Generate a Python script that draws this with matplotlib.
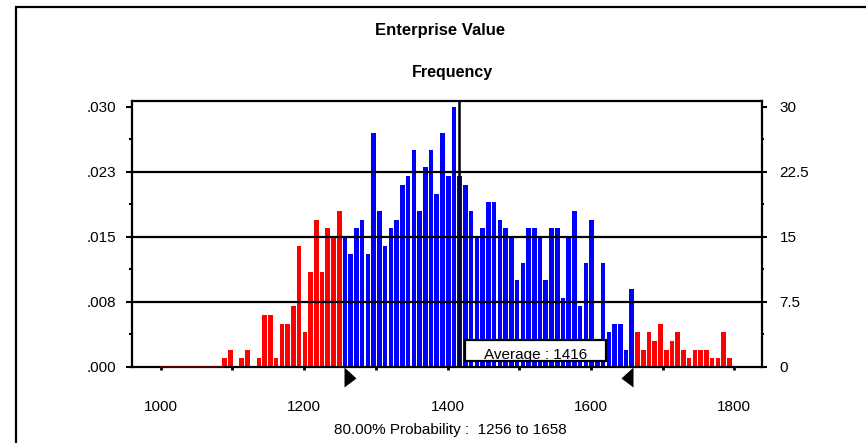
import matplotlib
matplotlib.use("Agg")
import matplotlib.pyplot as plt
from matplotlib.path import Path
from matplotlib.patches import Rectangle
from matplotlib.ticker import MultipleLocator
from matplotlib.transforms import Affine2D
import numpy as np

plt.rcParams["font.family"] = ["Liberation Sans", "DejaVu Sans"]

# data (frequency per bin, bins of 8 starting at 1085)
bin_start = 1085
bin_width = 8
counts = [1, 2, 0, 1, 2, 0, 1, 6, 6, 1, 5, 5, 7, 14, 4, 11, 17, 11, 16, 15, 18,
          15, 13, 16, 17, 13, 27, 18, 14, 16, 17, 21, 22, 25, 18, 23, 25, 20, 27, 22, 30,
          22, 21, 18, 15, 16, 19, 19, 17, 16, 15, 10, 12, 16, 16, 15, 10, 16, 16, 8, 15,
          18, 7, 12, 17, 1, 12, 4, 5, 5, 2, 9,
          4, 2, 4, 3, 5, 2, 3, 4, 2, 1, 2, 2, 2, 1, 1, 4, 1]
display_min = 1000
average = 1416
certainty = 80.00
lo, hi = 1256, 1658

freq_ticks = [0, 7.5, 15, 22.5, 30]
freq_labels = ["0", "7.5", "15", "22.5", "30"]
prob_labels = [".000", ".008", ".015", ".023", ".030"]
x_ticks = [1000, 1200, 1400, 1600, 1800]

W, H = 866, 443
fig = plt.figure(figsize=(W / 100, H / 100), dpi=100)

# outer frame (only left and top edges visible)
fig.patches.append(Rectangle((16 / W, -0.5), 2, 1 - 7 / H + 0.5, transform=fig.transFigure,
                             fill=False, lw=1.6, edgecolor="black"))

ax = fig.add_axes([131.7 / W, 1 - 367 / H, (762.3 - 131.7) / W, (367 - 100.7) / H])

centers = bin_start + bin_width / 2 + bin_width * np.arange(len(counts))
colors = ["#ff0000" if (c < lo or c > hi) else "#0000ff" for c in centers]
ax.bar(centers, counts, width=bin_width * 0.8, color=colors, linewidth=0, zorder=2)

ax.plot([display_min, bin_start], [0, 0], color="#600000", lw=1.2, zorder=6, clip_on=False)

for g in freq_ticks[1:-1]:
    ax.axhline(g, color="black", lw=1.6, zorder=3)
ax.axvline(average, color="black", lw=1.8, zorder=3)

ax.set_xlim(959.6, 1839)
ax.set_ylim(0, 30.7)

for s in ax.spines.values():
    s.set_linewidth(1.6)
    s.set_zorder(5)

ax.set_xticks(x_ticks)
ax.set_xticklabels([str(v) for v in x_ticks])
ax.xaxis.set_minor_locator(MultipleLocator(100))
ax.tick_params(axis="x", which="both", direction="out", length=2.5, width=2, pad=21, labelsize=11)

ax.set_yticks(freq_ticks)
ax.set_yticklabels(prob_labels)
ax.yaxis.set_minor_locator(MultipleLocator(3.75))
ax.tick_params(axis="y", which="major", direction="out", length=4, width=1.5, pad=7, labelsize=11)
ax.tick_params(axis="y", which="minor", direction="out", length=2, width=1.5)

ax2 = ax.twinx()
ax2.set_ylim(ax.get_ylim())
ax2.set_yticks(freq_ticks)
ax2.set_yticklabels(freq_labels)
ax2.yaxis.set_minor_locator(MultipleLocator(3.75))
ax2.tick_params(axis="y", which="major", direction="out", length=3.5, width=1.5, pad=9, labelsize=11)
ax2.tick_params(axis="y", which="minor", direction="out", length=1.5, width=1.5)
for s in ax2.spines.values():
    s.set_visible(False)

# certainty grabbers
right_tri = Path([(0, 0), (0, -1), (0.6, -0.55), (0, 0)],
                 [Path.MOVETO, Path.LINETO, Path.LINETO, Path.CLOSEPOLY])
left_tri = Path([(0, 0), (0, -1), (-0.6, -0.55), (0, 0)],
                [Path.MOVETO, Path.LINETO, Path.LINETO, Path.CLOSEPOLY])
ax.plot([lo], [0], marker=right_tri, ms=28.8, mew=0, color="black", ls="none", clip_on=False, zorder=6)
ax.plot([hi], [0], marker=left_tri, ms=28.8, mew=0, color="black", ls="none", clip_on=False, zorder=6)

# average label box, placed in pixels next to the average line
ox, oy = ax.transData.transform((average, 0))
box_tr = Affine2D().translate(ox, oy)
ax.add_patch(Rectangle((6, 6), 141, 21, transform=box_tr, facecolor="white",
                       edgecolor="black", lw=1.6, zorder=7, clip_on=False))
ax.text(77, 8.5, "Average : %d" % average, transform=box_tr, ha="center", va="baseline",
        fontsize=11, zorder=8)

fig.text(440 / W, 1 - 31 / H, "Enterprise Value", ha="center", va="center",
         fontsize=12, fontweight="bold")
fig.text(452 / W, 1 - 73 / H, "Frequency", ha="center", va="center",
         fontsize=11.5, fontweight="bold")
fig.text(450 / W, 1 - 430 / H, "%.2f%% Probability :  %d to %d" % (certainty, lo, hi),
         ha="center", va="center", fontsize=11)

fig.savefig("out.png", dpi=100)
